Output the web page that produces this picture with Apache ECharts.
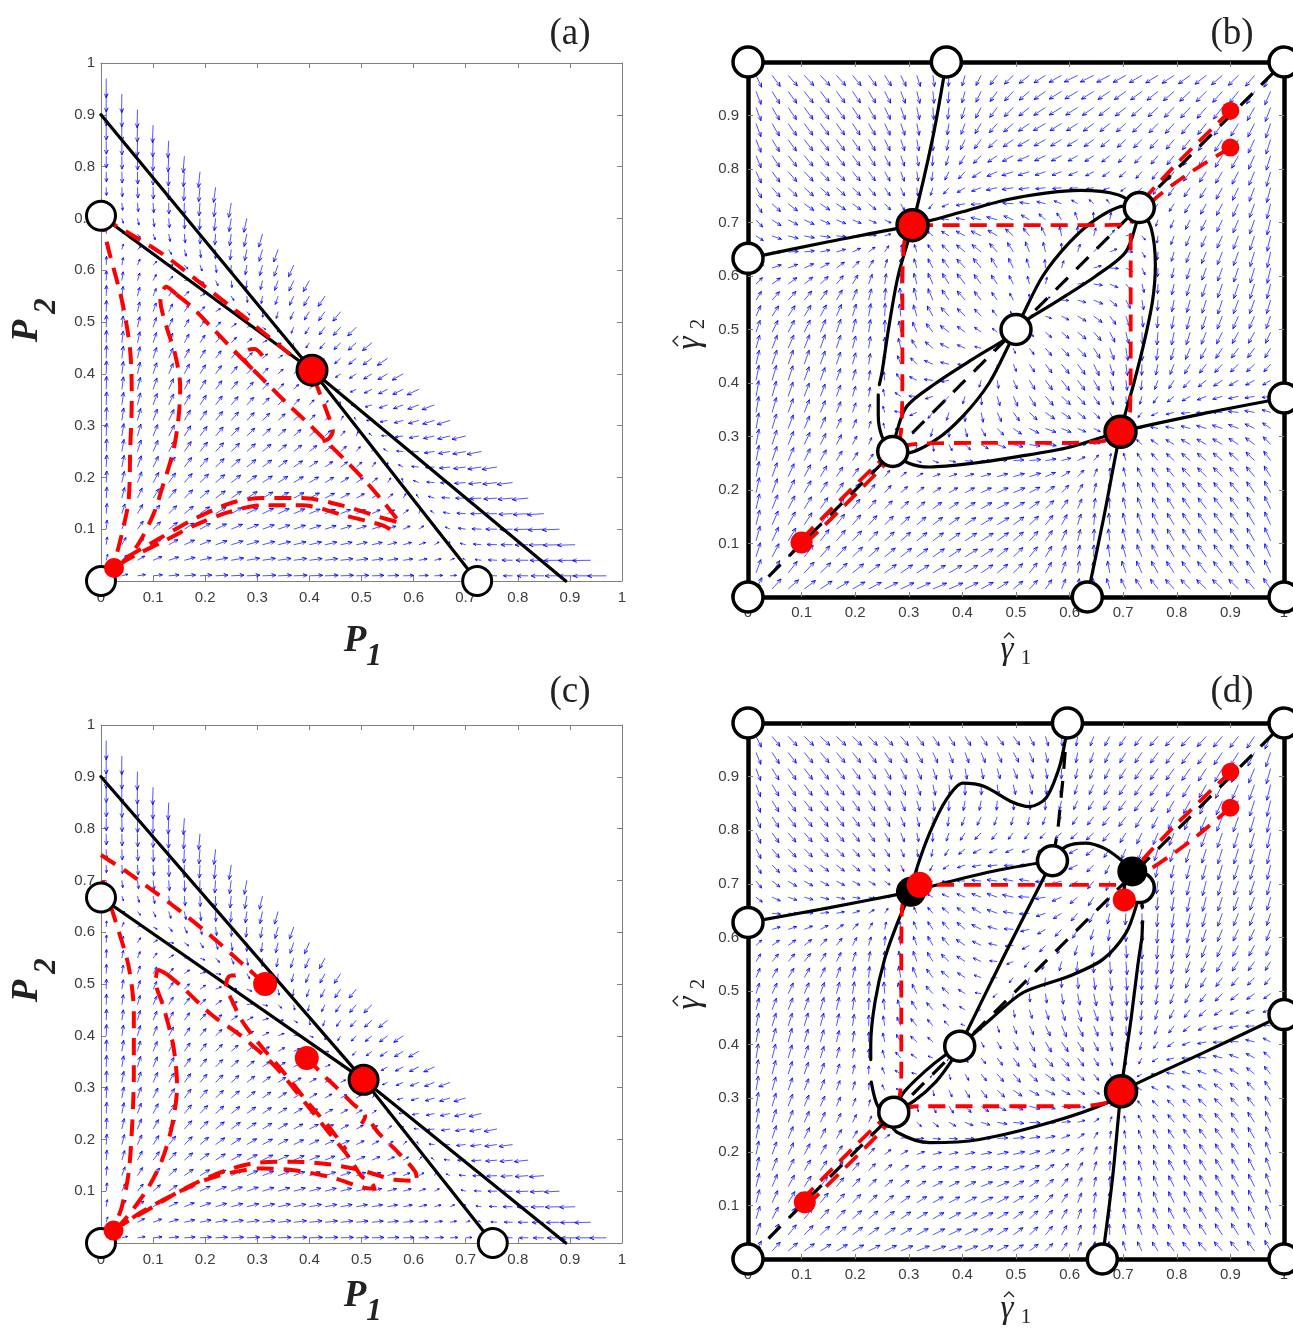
<!DOCTYPE html>
<html>
<head>
<meta charset="utf-8">
<script src="https://cdn.jsdelivr.net/npm/echarts/dist/echarts.min.js"></script>
<style>
  html, body { margin: 0; padding: 0; background: #ffffff; }
  #chart { width: 1293px; height: 1330px; }
</style>
</head>
<body>
<div id="chart"></div>
<script>
// ---------- tick labels ----------
const tickValues = [0, 0.1, 0.2, 0.3, 0.4, 0.5, 0.6, 0.7, 0.8, 0.9, 1];

// ---------- panel (a): two-species simplex ----------
const aNullP1 = [[0, 0.9], [0.405, 0.407], [0.722, 0]];      // P1-nullcline
const aNullP2 = [[0, 0.705], [0.405, 0.407], [0.892, 0]];    // P2-nullcline
const aStable = [[0.405, 0.407]];
const aSmall = [[0.025, 0.025]];
const aOpen = [[0, 0], [0, 0.705], [0.722, 0]];
const aTraj = [
  [[0, 0.706], [0.015, 0.638], [0.04, 0.542], [0.056, 0.445], [0.059, 0.349], [0.056, 0.252], [0.053, 0.156], [0.04, 0.091], [0.027, 0.04]],
  [[0.002, 0.7], [0.027, 0.687], [0.117, 0.632], [0.2, 0.568], [0.283, 0.503], [0.354, 0.445], [0.398, 0.41]],
  [[0.145, 0.553], [0.125, 0.568], [0.114, 0.542], [0.126, 0.49], [0.142, 0.439], [0.152, 0.375], [0.149, 0.317], [0.139, 0.252], [0.12, 0.188], [0.101, 0.13], [0.072, 0.072], [0.043, 0.037], [0.027, 0.027]],
  [[0.145, 0.553], [0.171, 0.532], [0.215, 0.487], [0.255, 0.445], [0.29, 0.41], [0.322, 0.378], [0.36, 0.34], [0.398, 0.304], [0.44, 0.262], [0.475, 0.227], [0.51, 0.19], [0.545, 0.149], [0.574, 0.112], [0.533, 0.124], [0.462, 0.146], [0.386, 0.16], [0.309, 0.16], [0.258, 0.153], [0.213, 0.136], [0.168, 0.114], [0.117, 0.085], [0.072, 0.059], [0.034, 0.037]],
  [[0.31, 0.435], [0.295, 0.448], [0.28, 0.445], [0.275, 0.43], [0.29, 0.41]],
  [[0.425, 0.27], [0.437, 0.275], [0.445, 0.29], [0.437, 0.317], [0.415, 0.375], [0.405, 0.4]],
  [[0.555, 0.1], [0.539, 0.108], [0.469, 0.126], [0.386, 0.146], [0.309, 0.146], [0.245, 0.133], [0.181, 0.108], [0.117, 0.075], [0.066, 0.05], [0.03, 0.03]]
];

// ---------- panel (c): two-species simplex ----------
const cNullP1 = [[0, 0.9], [0.504, 0.315], [0.752, 0]];
const cNullP2 = [[0, 0.667], [0.504, 0.315], [0.892, 0]];
const cStable = [[0.504, 0.315]];
const cSmall = [[0.024, 0.024]];
const cStarts = [[0.315, 0.5], [0.395, 0.357]];
const cOpen = [[0, 0], [0, 0.667], [0.752, 0]];
const cTraj = [
  [[0, 0.749], [0.053, 0.714], [0.136, 0.653], [0.2, 0.602], [0.277, 0.534], [0.315, 0.5]],
  [[0.003, 0.7], [0.027, 0.624], [0.053, 0.534], [0.063, 0.444], [0.063, 0.328], [0.06, 0.231], [0.053, 0.135], [0.04, 0.07], [0.027, 0.035]],
  [[0.125, 0.52], [0.11, 0.527], [0.105, 0.505], [0.12, 0.456], [0.139, 0.379], [0.146, 0.302], [0.136, 0.225], [0.117, 0.16], [0.092, 0.109], [0.06, 0.063], [0.034, 0.032]],
  [[0.125, 0.52], [0.155, 0.495], [0.213, 0.44], [0.27, 0.399], [0.335, 0.34], [0.398, 0.263], [0.44, 0.21], [0.475, 0.167], [0.5, 0.129], [0.52, 0.115], [0.525, 0.105], [0.504, 0.107], [0.437, 0.128], [0.366, 0.141], [0.309, 0.144], [0.219, 0.128], [0.152, 0.1], [0.085, 0.064], [0.04, 0.035]],
  [[0.258, 0.517], [0.245, 0.514], [0.24, 0.495], [0.251, 0.469], [0.27, 0.43], [0.303, 0.385], [0.347, 0.334], [0.398, 0.27], [0.437, 0.225], [0.47, 0.18]],
  [[0.395, 0.357], [0.43, 0.321], [0.45, 0.302], [0.482, 0.27], [0.507, 0.244], [0.5, 0.23]],
  [[0.52, 0.23], [0.533, 0.212], [0.57, 0.175], [0.603, 0.138], [0.607, 0.12], [0.565, 0.122], [0.5, 0.14], [0.437, 0.152], [0.366, 0.157], [0.3, 0.155], [0.24, 0.14], [0.17, 0.11], [0.1, 0.07], [0.04, 0.035]]
];

// ---------- panel (b): unit square ----------
const bK1a = [[0.37, 1], [0.345, 0.86], [0.307, 0.695], [0.28, 0.6], [0.262, 0.5], [0.25, 0.42], [0.245, 0.397]];
const bK1b = [[0.243, 0.378], [0.243, 0.34], [0.25, 0.3], [0.27, 0.272]];
const bLobe1Low = [[0.27, 0.272], [0.296, 0.269], [0.351, 0.294], [0.401, 0.338], [0.45, 0.4], [0.488, 0.474], [0.5, 0.5]];
const bLobe1Up = [[0.27, 0.272], [0.275, 0.3], [0.296, 0.356], [0.351, 0.4], [0.42, 0.445], [0.488, 0.487], [0.5, 0.5]];
const bLobe2Up = [[0.5, 0.5], [0.512, 0.526], [0.55, 0.6], [0.599, 0.662], [0.649, 0.706], [0.704, 0.731], [0.73, 0.728]];
const bLobe2Low = [[0.5, 0.5], [0.512, 0.513], [0.58, 0.555], [0.649, 0.6], [0.704, 0.644], [0.725, 0.7], [0.73, 0.728]];
const bK4 = [[0.73, 0.728], [0.752, 0.69], [0.76, 0.62], [0.755, 0.555], [0.74, 0.48], [0.72, 0.4], [0.695, 0.309], [0.664, 0.15], [0.633, 0]];
const bK3 = [[0, 0.633], [0.15, 0.664], [0.307, 0.695], [0.4, 0.72], [0.48, 0.742], [0.555, 0.755], [0.62, 0.76], [0.69, 0.752], [0.73, 0.728]];
const bK2 = [[1, 0.372], [0.86, 0.345], [0.695, 0.309], [0.6, 0.28], [0.5, 0.262], [0.42, 0.25], [0.34, 0.243], [0.3, 0.25], [0.27, 0.272]];
const bDiag = [[0, 0], [1, 1]];
const bStable = [[0.307, 0.695], [0.695, 0.309]];
const bSmall = [[0.9, 0.909], [0.9, 0.84]];
const bLowStart = [[0.1, 0.102]];
const bOpen = [[0, 1], [0.37, 1], [1, 1], [0, 0.633], [1, 0.372], [0, 0], [0.633, 0], [1, 0], [0.27, 0.272], [0.5, 0.5], [0.73, 0.728]];
const bTraj = [
  [[0.1, 0.108], [0.17, 0.179], [0.24, 0.248], [0.262, 0.267], [0.28, 0.285], [0.287, 0.33], [0.288, 0.45], [0.288, 0.55], [0.29, 0.65], [0.297, 0.685], [0.307, 0.695]],
  [[0.108, 0.1], [0.179, 0.17], [0.248, 0.24], [0.267, 0.262], [0.285, 0.28], [0.33, 0.287], [0.45, 0.288], [0.55, 0.288], [0.65, 0.29], [0.685, 0.297], [0.695, 0.309]],
  [[0.9, 0.909], [0.8, 0.81], [0.74, 0.745], [0.72, 0.72], [0.714, 0.67], [0.714, 0.55], [0.714, 0.45], [0.713, 0.35], [0.705, 0.32], [0.695, 0.309]],
  [[0.9, 0.84], [0.82, 0.79], [0.76, 0.745], [0.73, 0.71], [0.7, 0.696], [0.6, 0.695], [0.45, 0.695], [0.35, 0.695], [0.307, 0.695]]
];

// ---------- panel (d): unit square ----------
const dLeft = [[0, 0.628], [0.15, 0.655], [0.304, 0.685]];
const dMid = [[0.304, 0.685], [0.45, 0.722], [0.568, 0.743]];
const dTopArc = [[0.568, 0.743], [0.594, 0.77], [0.63, 0.776], [0.665, 0.766], [0.699, 0.742], [0.717, 0.723], [0.73, 0.693]];
const dWiggle = [[0.304, 0.685], [0.314, 0.726], [0.339, 0.795], [0.37, 0.857], [0.401, 0.888], [0.44, 0.882], [0.494, 0.852], [0.525, 0.844], [0.556, 0.86], [0.581, 0.918], [0.593, 0.974], [0.596, 1]];
const dTopDash = [[0.596, 1], [0.588, 0.9], [0.578, 0.8], [0.568, 0.743]];
const dUa = [[0.304, 0.685], [0.28, 0.63], [0.255, 0.56], [0.237, 0.48], [0.229, 0.4], [0.229, 0.372]];
const dUb = [[0.23, 0.33], [0.24, 0.29], [0.259, 0.261], [0.279, 0.236], [0.339, 0.217], [0.432, 0.223], [0.565, 0.255], [0.671, 0.292], [0.696, 0.313], [0.85, 0.385], [1, 0.456]];
const dVert = [[0.661, 0], [0.68, 0.15], [0.696, 0.313], [0.715, 0.45], [0.727, 0.546], [0.735, 0.6]];
const dVertDash = [[0.735, 0.6], [0.737, 0.65], [0.73, 0.693]];
const dCurve4 = [[0.395, 0.397], [0.45, 0.445], [0.513, 0.497], [0.6, 0.528], [0.662, 0.559], [0.705, 0.608], [0.724, 0.658], [0.73, 0.693]];
const dLine4 = [[0.395, 0.397], [0.48, 0.57], [0.568, 0.743]];
const dLobeUp = [[0.272, 0.274], [0.29, 0.31], [0.33, 0.35], [0.37, 0.382], [0.395, 0.397]];
const dLobeLow = [[0.272, 0.274], [0.31, 0.295], [0.35, 0.33], [0.38, 0.37], [0.395, 0.397]];
const dDiag = [[0, 0], [1, 1]];
const dBlack = [[0.304, 0.685], [0.717, 0.723]];
const dStable = [[0.696, 0.313]];
const dRedOnBlack = [[0.32, 0.698]];
const dRedMid = [[0.702, 0.67]];
const dSmall = [[0.9, 0.909], [0.9, 0.842]];
const dLowStart = [[0.106, 0.106]];
const dOpen = [[0, 1], [0.596, 1], [1, 1], [0, 0.628], [1, 0.456], [0, 0], [0.661, 0], [1, 0], [0.272, 0.274], [0.395, 0.397], [0.568, 0.743], [0.73, 0.693]];
const dTraj = [
  [[0.1, 0.11], [0.17, 0.181], [0.24, 0.25], [0.262, 0.268], [0.28, 0.29], [0.286, 0.35], [0.286, 0.45], [0.286, 0.55], [0.287, 0.65], [0.298, 0.69], [0.32, 0.698]],
  [[0.11, 0.1], [0.181, 0.17], [0.25, 0.24], [0.268, 0.262], [0.29, 0.28], [0.32, 0.285], [0.45, 0.285], [0.6, 0.285], [0.671, 0.292], [0.696, 0.313]],
  [[0.9, 0.909], [0.8, 0.812], [0.75, 0.76], [0.717, 0.723], [0.69, 0.698], [0.6, 0.698], [0.5, 0.698], [0.4, 0.698], [0.32, 0.698]],
  [[0.9, 0.842], [0.836, 0.788], [0.786, 0.751], [0.749, 0.726], [0.711, 0.695], [0.702, 0.67]]
];

// ---------- direction fields ----------
function interp(pts, t, ia, ib) {
  let k = 0;
  while (k < pts.length - 2 && t > pts[k + 1][ia]) k++;
  const p = pts[k], q = pts[k + 1];
  return p[ib] + (t - p[ia]) * (q[ib] - p[ib]) / (q[ia] - p[ia]);
}
function scaleQuiver(raw, maxLen, pw) {
  let mmax = 0;
  raw.forEach(r => { mmax = Math.max(mmax, Math.hypot(r[2], r[3])); });
  return raw.map(([x, y, u, v]) => {
    const m = Math.hypot(u, v);
    if (m === 0) return [x, y, 0, 0];
    const L = maxLen * Math.pow(m / mmax, pw);
    return [x, y, u / m * L, v / m * L];
  });
}
// Lotka-Volterra-type field whose nullclines are the drawn polylines
function simplexField(n1, n2) {
  const n1ByY = n1.slice().sort((a, b) => a[1] - b[1]);
  const n2ByX = n2.slice().sort((a, b) => a[0] - b[0]);
  const raw = [];
  for (let i = 0; i < 33; i++) {
    for (let j = 0; j < 33; j++) {
      const x = 0.01 + 0.03 * i, y = 0.01 + 0.03 * j;
      if (x + y > 0.985) continue;
      const u = x * (interp(n1ByY, y, 1, 0) - x);
      const v = y * (interp(n2ByX, x, 0, 1) - y);
      raw.push([x, y, u, v]);
    }
  }
  return scaleQuiver(raw, 0.037, 0.5);
}
function segDist(px, py, a, b) {
  const dx = b[0] - a[0], dy = b[1] - a[1];
  const L2 = dx * dx + dy * dy;
  let t = L2 > 0 ? ((px - a[0]) * dx + (py - a[1]) * dy) / L2 : 0;
  t = Math.max(0, Math.min(1, t));
  return Math.hypot(px - (a[0] + t * dx), py - (a[1] + t * dy));
}
function polyDist(pl, x, y) {
  let d = Infinity;
  for (let k = 0; k < pl.length - 1; k++) d = Math.min(d, segDist(x, y, pl[k], pl[k + 1]));
  return d;
}
function crossLeft(pl, x, y) {
  let c = 0;
  for (let k = 0; k < pl.length - 1; k++) {
    const a = pl[k], b = pl[k + 1];
    if ((a[1] > y) !== (b[1] > y)) {
      const xi = a[0] + (y - a[1]) * (b[0] - a[0]) / (b[1] - a[1]);
      if (xi < x) c++;
    }
  }
  return c;
}
function crossDown(pl, x, y) {
  let c = 0;
  for (let k = 0; k < pl.length - 1; k++) {
    const a = pl[k], b = pl[k + 1];
    if ((a[0] > x) !== (b[0] > x)) {
      const yi = a[1] + (x - a[0]) * (b[1] - a[1]) / (b[0] - a[0]);
      if (yi < y) c++;
    }
  }
  return c;
}
// field on the unit square: h1 = 0 on the first curve, h2 = 0 on the second
function squareField(h1, h2) {
  const raw = [];
  for (let i = 0; i < 33; i++) {
    for (let j = 0; j < 33; j++) {
      const x = 0.015 + 0.03 * i, y = 0.015 + 0.03 * j;
      const s1 = crossLeft(h1, x, y) % 2 === 0 ? 1 : -1;
      const s2 = crossDown(h2, x, y) % 2 === 0 ? 1 : -1;
      const u = s1 * polyDist(h1, x, y) * Math.sqrt(x * (1 - x));
      const v = s2 * polyDist(h2, x, y) * Math.pow(y * (1 - y), 0.35);
      raw.push([x, y, u, v]);
    }
  }
  return scaleQuiver(raw, 0.03, 0.45);
}
const rev = a => a.slice().reverse();
const bH1 = [].concat(bK1a, bK1b, bLobe1Low, bLobe2Up, bK4);
const bH2 = [].concat(bK3, rev(bLobe2Low), rev(bLobe1Up), rev(bK2));
const dH1 = [].concat(rev(dWiggle), dUa, [[0.23, 0.33], [0.24, 0.29], [0.255, 0.27]], dLobeLow, dCurve4, rev(dVertDash), rev(dVert));
const dH2 = [].concat(dLeft, dMid, rev(dLine4), rev(dLobeUp), dUb.slice(3));

const aField = simplexField(aNullP1, aNullP2);
const cField = simplexField(cNullP1, cNullP2);
const bField = squareField(bH1, bH2);
const dField = squareField(dH1, dH2);

// ---------- layout ----------
const grids = [
  { left: 101, top: 63, width: 521, height: 518 },
  { left: 748, top: 62, width: 536, height: 535 },
  { left: 101, top: 725, width: 521, height: 518 },
  { left: 748, top: 723, width: 536, height: 536 }
];
const boxPanel = [false, true, false, true];
const AX_GRAY = '#808080';
const LABEL_FONT = '"Liberation Sans", Arial, sans-serif';
const fmt = v => String(Math.round(v * 10) / 10);

const xAxes = [], yAxes = [];
grids.forEach((g, gi) => {
  const box = boxPanel[gi];
  const line = box ? { show: true, onZero: false, lineStyle: { color: '#000', width: 4.5 } }
                   : { show: true, onZero: false, lineStyle: { color: AX_GRAY, width: 1 } };
  const tick = { show: true, inside: true, length: 5, lineStyle: { color: AX_GRAY, width: 1 } };
  const lab = { show: true, color: '#3c3c3c', fontSize: 15, fontFamily: LABEL_FONT, formatter: fmt };
  const base = { gridIndex: gi, type: 'value', min: 0, max: 1, interval: 0.1, splitLine: { show: false }, axisLine: line, axisTick: tick };
  xAxes.push(Object.assign({}, base, { position: 'bottom', axisLabel: Object.assign({}, lab, { margin: box ? 8 : 9 }) }));
  xAxes.push(Object.assign({}, base, { position: 'top', axisLabel: { show: false } }));
  yAxes.push(Object.assign({}, base, { position: 'left', axisLabel: Object.assign({}, lab, { margin: box ? 9 : 6 }) }));
  yAxes.push(Object.assign({}, base, { position: 'right', axisLabel: { show: false } }));
});

// ---------- series builders ----------
const series = [];
function quiver(data, gi) {
  series.push({
    type: 'custom', xAxisIndex: 2 * gi, yAxisIndex: 2 * gi, data: data, z: 1, silent: true, clip: false,
    dimensions: ['x', 'y', 'u', 'v'], encode: { x: 0, y: 1 },
    renderItem: function (params, api) {
      const x = api.value(0), y = api.value(1), u = api.value(2), v = api.value(3);
      const p0 = api.coord([x, y]);
      const p1 = api.coord([x + u, y + v]);
      const dx = p1[0] - p0[0], dy = p1[1] - p0[1];
      const L = Math.hypot(dx, dy);
      if (L < 0.5) return null;
      const hl = Math.min(4.5, 0.38 * L), ang = 0.42;
      const bx = -dx / L, by = -dy / L;
      const ca = Math.cos(ang), sa = Math.sin(ang);
      const hA = [p1[0] + hl * (bx * ca - by * sa), p1[1] + hl * (bx * sa + by * ca)];
      const hB = [p1[0] + hl * (bx * ca + by * sa), p1[1] + hl * (-bx * sa + by * ca)];
      return {
        type: 'polyline',
        shape: { points: [p0, p1, hA, p1, hB] },
        style: { stroke: '#0000ff', fill: 'none', lineWidth: 0.8, opacity: 0.85 }
      };
    }
  });
}
function lines(list, gi, color, width, dash, smooth, z) {
  list.forEach(d => {
    series.push({
      type: 'line', xAxisIndex: 2 * gi, yAxisIndex: 2 * gi, data: d, showSymbol: false, symbol: 'none',
      smooth: smooth, clip: false, silent: true, z: z,
      lineStyle: { color: color, width: width, type: dash || 'solid', cap: dash ? 'butt' : 'round', join: 'round' }
    });
  });
}
function dots(data, gi, size, fill, border, bw, z) {
  series.push({
    type: 'scatter', xAxisIndex: 2 * gi, yAxisIndex: 2 * gi, data: data, symbol: 'circle', symbolSize: size,
    clip: false, silent: true, z: z,
    itemStyle: { color: fill, borderColor: border || fill, borderWidth: bw || 0, opacity: 1 }
  });
}
const RED = '#ff0000';
const RED_DASH = [17, 10];
const BLACK_DASH = [17, 12];

// (a)
quiver(aField, 0);
lines([aNullP1, aNullP2], 0, '#000', 3.2, null, false, 3);
lines(aTraj, 0, RED, 4, RED_DASH, 0.3, 4);
dots(aOpen, 0, 29, '#fff', '#000', 3, 6);
dots(aStable, 0, 30, RED, '#000', 3, 7);
dots(aSmall, 0, 20, RED, RED, 0, 7);

// (b)
quiver(bField, 1);
lines([bK1a, bK1b, bLobe1Low, bLobe1Up, bLobe2Up, bLobe2Low, bK4, bK3, bK2], 1, '#000', 3.2, null, 0.3, 3);
lines([bDiag], 1, '#000', 3.2, BLACK_DASH, false, 3);
lines(bTraj, 1, RED, 3.8, RED_DASH, 0.3, 4);
dots(bOpen, 1, 30, '#fff', '#000', 3.5, 6);
dots(bStable, 1, 31, RED, '#000', 3.5, 7);
dots(bSmall, 1, 18, RED, RED, 0, 7);
dots(bLowStart, 1, 22, RED, RED, 0, 7);

// (c)
quiver(cField, 2);
lines([cNullP1, cNullP2], 2, '#000', 3.2, null, false, 3);
lines(cTraj, 2, RED, 4, RED_DASH, 0.3, 4);
dots(cOpen, 2, 29, '#fff', '#000', 3, 6);
dots(cStable, 2, 29, RED, '#000', 3, 7);
dots(cStarts, 2, 24, RED, RED, 0, 7);
dots(cSmall, 2, 20, RED, RED, 0, 7);

// (d)
quiver(dField, 3);
lines([dLeft, dMid, dTopArc, dWiggle, dUa, dUb, dVert, dCurve4, dLine4, dLobeUp, dLobeLow], 3, '#000', 3.2, null, 0.3, 3);
lines([dDiag, dTopDash, dVertDash], 3, '#000', 3.2, BLACK_DASH, false, 3);
lines(dTraj, 3, RED, 3.8, RED_DASH, 0.3, 4);
dots(dOpen, 3, 30, '#fff', '#000', 3.5, 6);
dots(dBlack, 3, 30, '#000', '#000', 0, 7);
dots(dStable, 3, 31, RED, '#000', 3.5, 7);
dots(dRedOnBlack, 3, 26, RED, RED, 0, 8);
dots(dRedMid, 3, 23, RED, RED, 0, 8);
dots(dSmall, 3, 18, RED, RED, 0, 7);
dots(dLowStart, 3, 22, RED, RED, 0, 7);

// ---------- titles ----------
const SERIF = '"Liberation Serif", "Times New Roman", serif';
function txt(x, y, text, font, extra) {
  return Object.assign({
    type: 'text', x: x, y: y, silent: true,
    style: { text: text, font: font, fill: '#222', align: 'center', verticalAlign: 'middle', textAlign: 'center', textVerticalAlign: 'middle' }
  }, extra || {});
}
const PFONT = 'italic bold 37px ' + SERIF;
const SUBFONT = 'italic bold 31px ' + SERIF;
const GFONT = 'italic 33px ' + SERIF;
const GSUB = '21px ' + SERIF;
// gamma-hat with subscript: gamma glyph, a drawn circumflex above it, and the index
function gammaHat(idx) {
  return [
    txt(0, 0, 'γ', GFONT),
    { type: 'polyline', silent: true, shape: { points: [[-3, -12], [2, -17], [7, -12]] },
      style: { stroke: '#222', fill: 'none', lineWidth: 1.4 } },
    txt(19, 8, idx, GSUB)
  ];
}
const graphic = [
  txt(570, 34, '(a)', '37px ' + SERIF),
  txt(1232, 34, '(b)', '37px ' + SERIF),
  txt(570, 692, '(c)', '37px ' + SERIF),
  txt(1232, 692, '(d)', '37px ' + SERIF),
  // P1 labels
  txt(355, 641, 'P', PFONT), txt(374, 657, '1', SUBFONT),
  txt(355, 1296, 'P', PFONT), txt(374, 1312, '1', SUBFONT),
  // P2 labels (rotated)
  { type: 'group', x: 27, y: 331, rotation: Math.PI / 2, silent: true,
    children: [txt(0, 0, 'P', PFONT), txt(25, 20, '2', SUBFONT)] },
  { type: 'group', x: 27, y: 991, rotation: Math.PI / 2, silent: true,
    children: [txt(0, 0, 'P', PFONT), txt(25, 20, '2', SUBFONT)] },
  // gamma-hat 1 labels
  { type: 'group', x: 1007, y: 650, silent: true, children: gammaHat('1') },
  { type: 'group', x: 1007, y: 1309, silent: true, children: gammaHat('1') },
  // gamma-hat 2 labels (rotated)
  { type: 'group', x: 690, y: 343, rotation: Math.PI / 2, silent: true, children: gammaHat('2') },
  { type: 'group', x: 690, y: 1003, rotation: Math.PI / 2, silent: true, children: gammaHat('2') }
];

const chart = echarts.init(document.getElementById('chart'), null, { renderer: 'canvas' });
chart.setOption({
  animation: false,
  backgroundColor: '#ffffff',
  grid: grids.map(g => Object.assign({ containLabel: false, show: false }, g)),
  xAxis: xAxes,
  yAxis: yAxes,
  series: series,
  graphic: graphic
});
</script>
</body>
</html>
